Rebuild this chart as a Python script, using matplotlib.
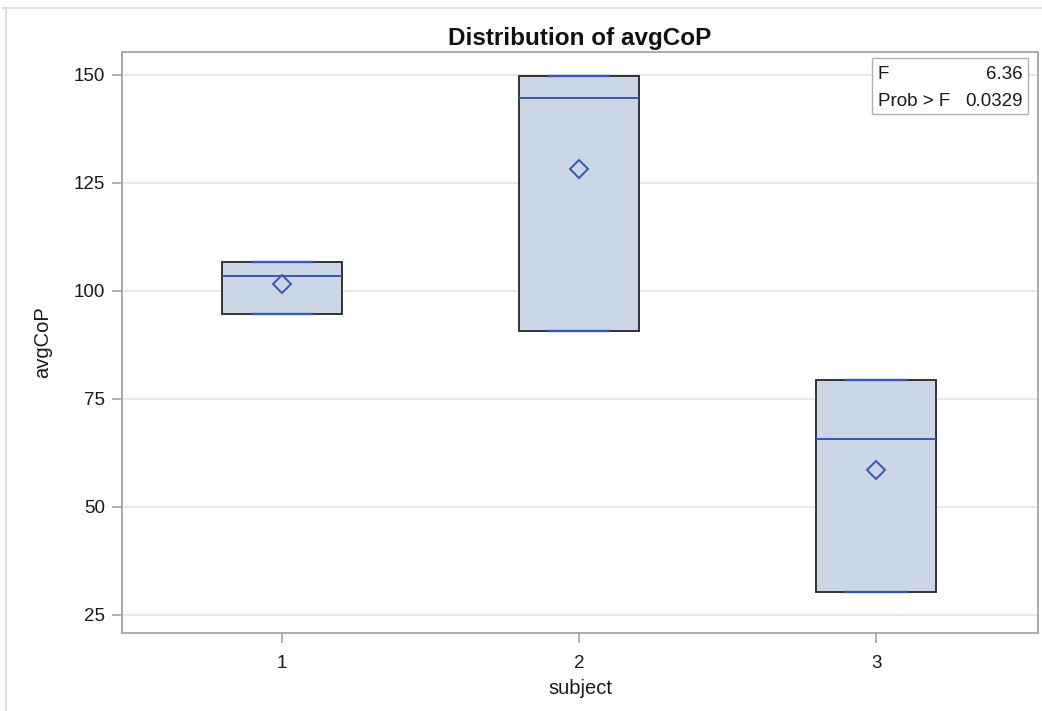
import matplotlib
matplotlib.use("Agg")
import matplotlib.pyplot as plt
from matplotlib.lines import Line2D

plt.rcParams['font.family'] = ['Liberation Sans', 'DejaVu Sans']

subjects = ["1", "2", "3"]
mins = [94.7, 90.7, 30.3]
medians = [103.5, 144.7, 65.7]
maxs = [106.7, 149.8, 79.4]
means = [101.6, 128.3, 58.5]
f_value = "6.36"
p_value = "0.0329"

fill_color = "#CAD5E6"
line_blue = "#3358B0"
edge_dark = "#333333"
spine_gray = "#A0A4A8"
text_dark = "#1A1A1A"

fig = plt.figure(figsize=(10.42, 7.11), dpi=100)
ax = fig.add_axes([122 / 1042, 1 - 633 / 711, (1038 - 122) / 1042, (633 - 52) / 711])

stats = []
for lab, lo, md, hi, mn in zip(subjects, mins, medians, maxs, means):
    stats.append(dict(label=lab, whislo=lo, q1=lo, med=md, q3=hi, whishi=hi, mean=mn, fliers=[]))

positions = [1, 2, 3]
ax.bxp(stats, positions=positions, widths=0.404, capwidths=0.2, showmeans=True,
       patch_artist=True, showfliers=False,
       boxprops=dict(facecolor=fill_color, edgecolor=edge_dark, linewidth=1.4),
       medianprops=dict(color=line_blue, linewidth=1.4),
       whiskerprops=dict(color=line_blue, linewidth=1.4),
       capprops=dict(color=line_blue, linewidth=1.7),
       meanprops=dict(marker="D", markerfacecolor="none", markeredgecolor=line_blue,
                      markersize=9, markeredgewidth=1.4))

ax.set_xlim(0.461, 3.545)
ax.set_ylim(20.8, 155.3)
ax.set_yticks([25, 50, 75, 100, 125, 150])
ax.set_xticks(positions)
ax.set_xticklabels(subjects)
ax.yaxis.grid(True, color="#E8E8E8", linewidth=1.4)
ax.set_axisbelow(True)
for s in ax.spines.values():
    s.set_color(spine_gray)
    s.set_linewidth(1.3)
ax.tick_params(axis="both", colors=spine_gray, labelcolor=text_dark, labelsize=13.5,
               length=7, width=1.2, pad=5)
ax.tick_params(axis="x", pad=9)

ax.set_title("Distribution of avgCoP", fontsize=17.5, fontweight="bold", pad=5, color="#111111")
ax.set_xlabel("subject", fontsize=14.5, labelpad=5, color=text_dark)
ax.set_ylabel("avgCoP", fontsize=14.5, labelpad=16, color=text_dark)

# Inset statistics table
tx0, tx1 = 0.8188, 0.989
ty0, ty1 = 0.8933, 0.9897
ax.add_patch(plt.Rectangle((tx0, ty0), tx1 - tx0, ty1 - ty0, transform=ax.transAxes,
                           facecolor="white", edgecolor="#B0B0B0", linewidth=1.0, zorder=5))
ax.text(0.8253, 0.9605, "F", transform=ax.transAxes, fontsize=13.5, va="center", ha="left",
        zorder=6, color=text_dark)
ax.text(0.9836, 0.9605, f_value, transform=ax.transAxes, fontsize=13.5, va="center", ha="right",
        zorder=6, color=text_dark)
ax.text(0.8253, 0.9150, "Prob > F", transform=ax.transAxes, fontsize=13.5, va="center", ha="left",
        zorder=6, color=text_dark)
ax.text(0.9836, 0.9150, p_value, transform=ax.transAxes, fontsize=13.5, va="center", ha="right",
        zorder=6, color=text_dark)

# Outer frame lines
fig.add_artist(Line2D([6 / 1042, 6 / 1042], [0, 1 - 8 / 711], transform=fig.transFigure,
                      color="#D8D8D8", linewidth=1.2))
fig.add_artist(Line2D([3 / 1042, 1], [1 - 8 / 711, 1 - 8 / 711], transform=fig.transFigure,
                      color="#D8D8D8", linewidth=1.2))

fig.savefig("out.png", dpi=100, facecolor="white")
